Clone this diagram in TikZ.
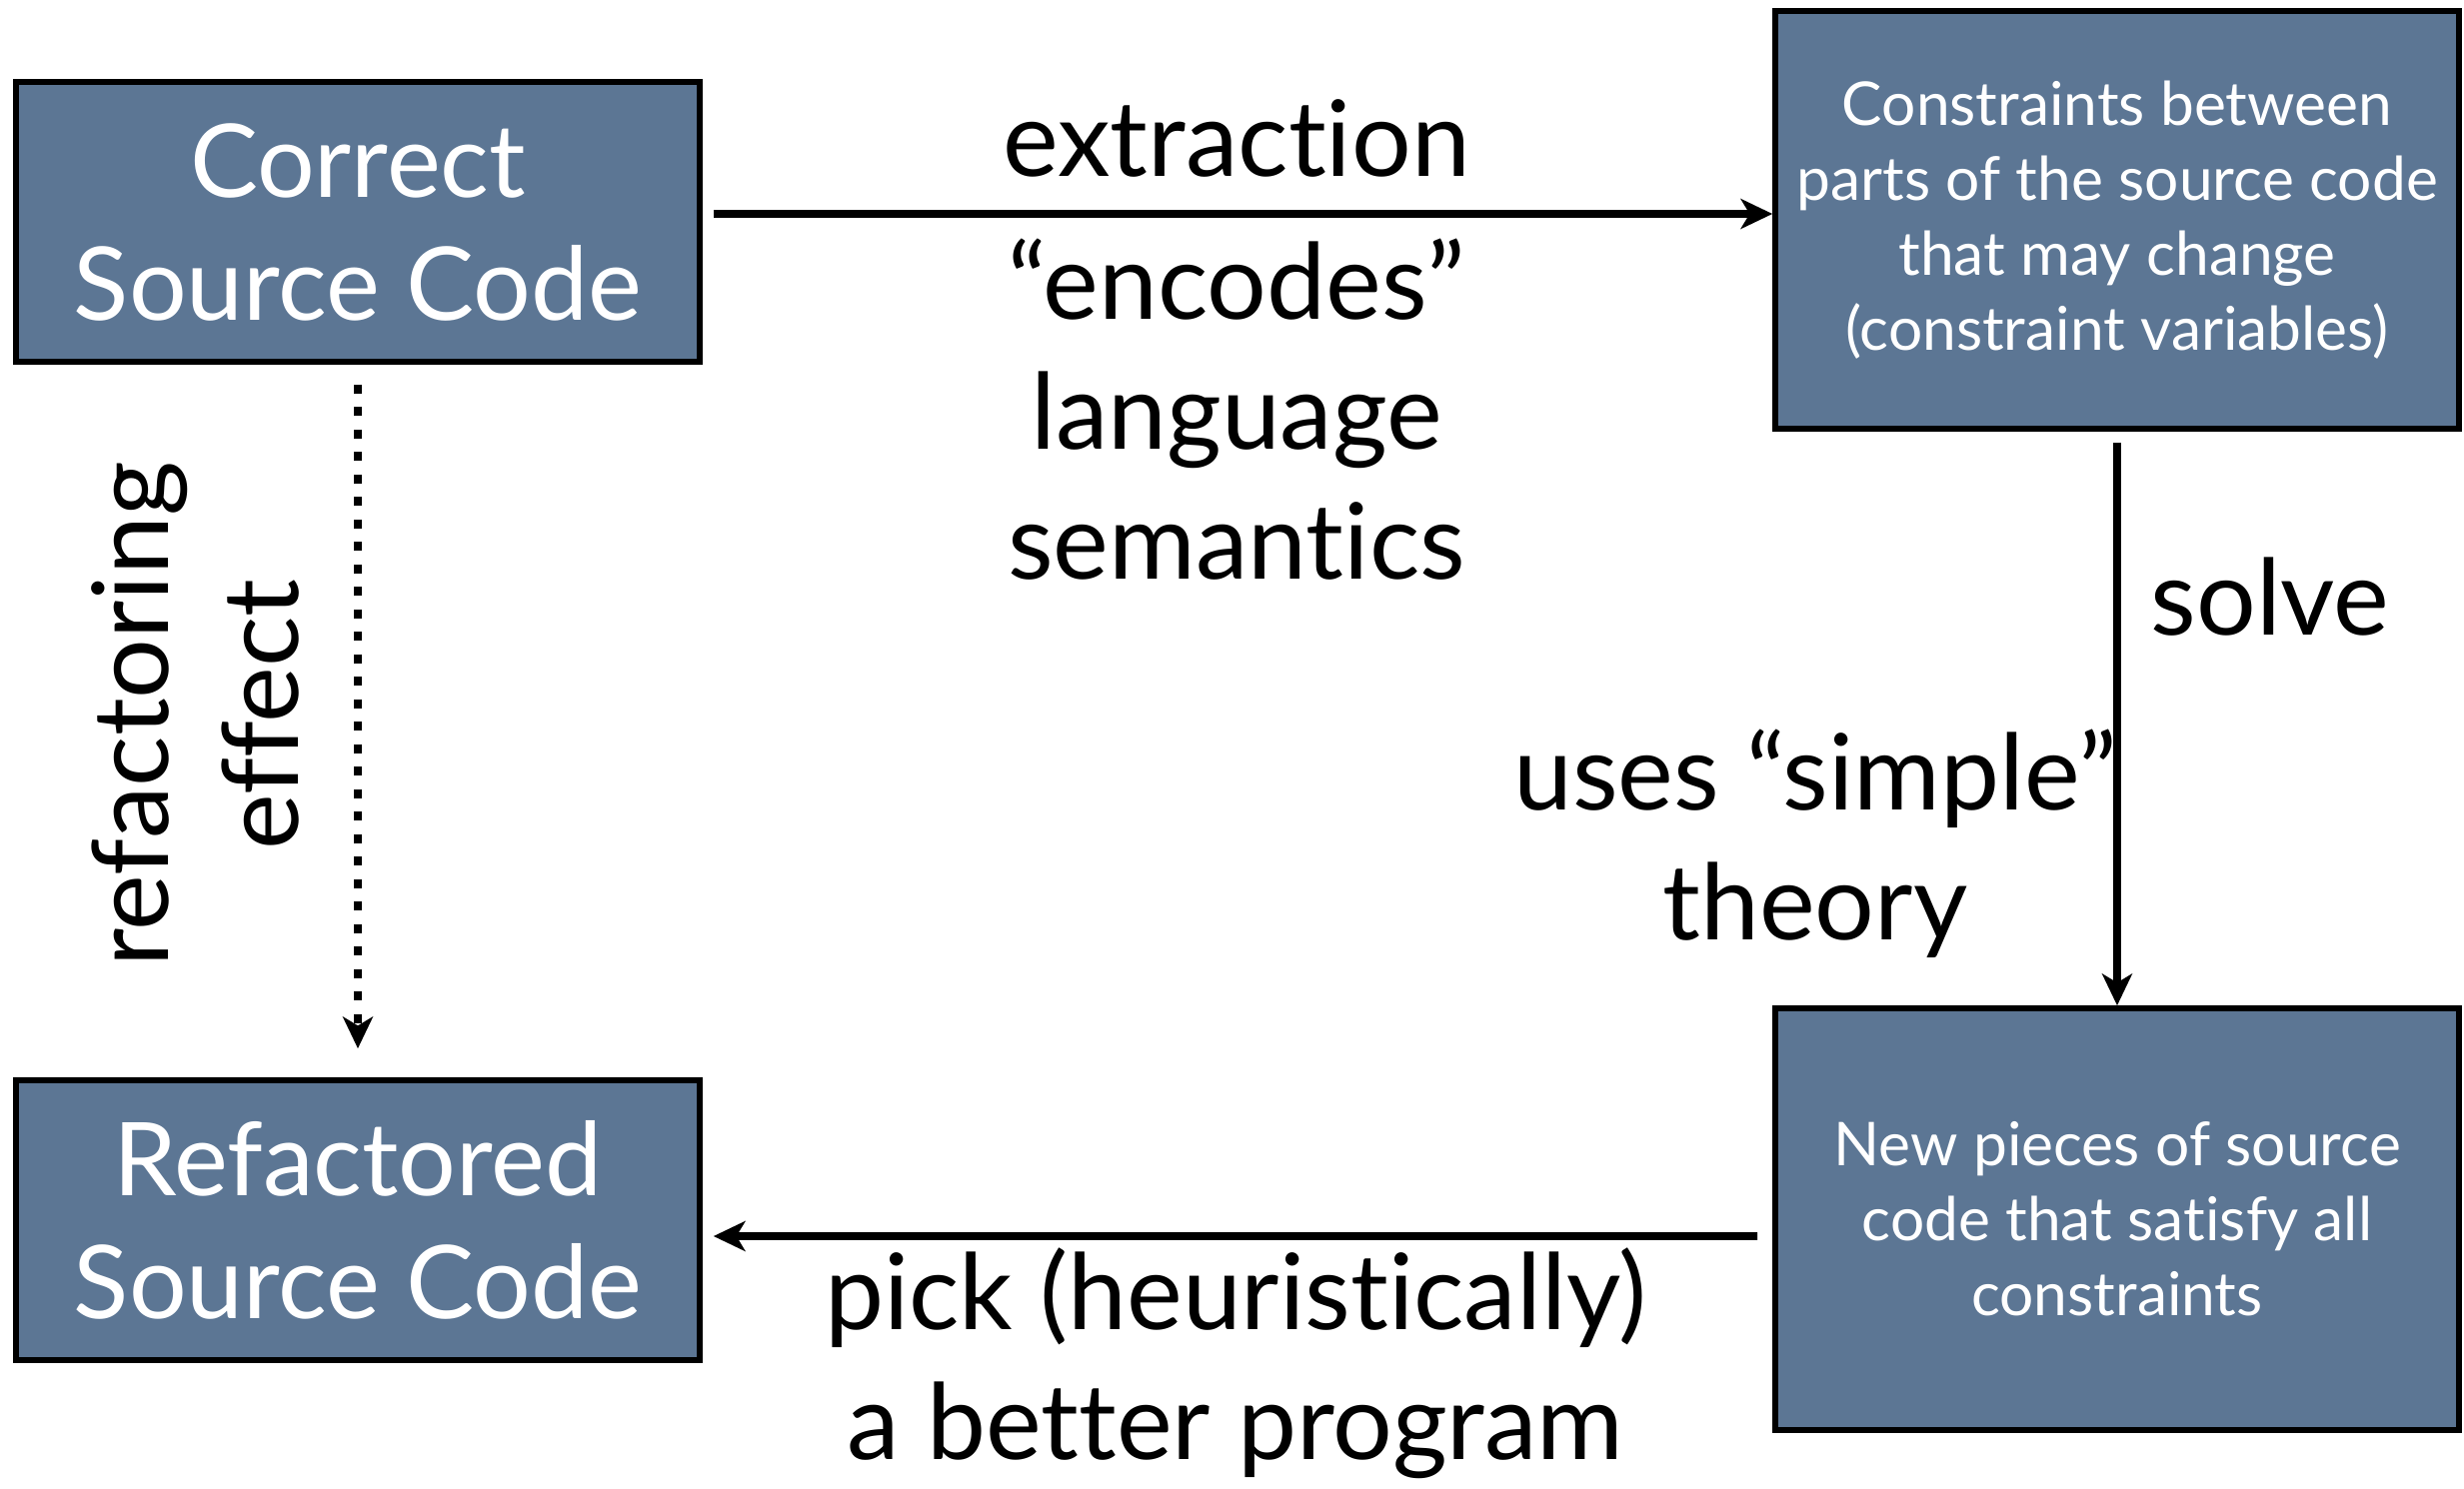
\documentclass[tikz,border=0pt]{standalone}
\usepackage{fontspec}
\setmainfont{Lato}[Ligatures={NoCommon, NoContextual}]
\usepackage{xcolor}
\definecolor{slateblue}{RGB}{92,118,148}
\usepackage{tikz}
\usetikzlibrary{arrows.meta, positioning}

\begin{document}
\begin{tikzpicture}[
  font=\fontsize{30}{37}\selectfont,
  bigbox/.style={rectangle, draw=black, line width=1.6pt, fill=slateblue,
                 minimum width=6.84cm, text=white, align=center,
                 inner sep=0pt},
  headbox/.style={bigbox, minimum height=2.8cm,
                  font=\fontsize{29}{35}\selectfont},
  textbox/.style={bigbox, minimum height=4.2cm,
                  font=\fontsize{17.2}{21.3}\selectfont},
  flow/.style={-{Stealth[length=9pt, width=8.5pt, inset=2.5pt]},
               line width=2.2pt},
  annot/.style={align=center, inner sep=0pt},
]
\useasboundingbox (0,0) rectangle (24.65,-14.89);

%% --- boites ---
\node[headbox] (correct) at (3.58,-2.22)  {Correct\\Source Code};
\node[headbox] (refact)  at (3.58,-12.21) {Refactored\\Source Code};
\node[textbox, minimum height=4.18cm] (constr) at (21.18,-2.20)
  {Constraints between\\
   parts of the source code\\
   that may change\\
   (constraint variables)};
\node[textbox, minimum height=4.22cm] (newpc) at (21.18,-12.20)
  {New pieces of source\\
   code that satisfy all\\
   constraints};

%% --- fleches ---
\draw[flow] ([xshift=0.11cm,yshift=0.08cm]correct.east)
  -- ([yshift=0.06cm]constr.west);
\draw[flow] ([yshift=-0.11cm]constr.south) -- (newpc.north);
\draw[flow] ([xshift=-0.15cm,yshift=-0.17cm]newpc.west)
  -- ([xshift=0.11cm,yshift=-0.16cm]refact.east);
\draw[flow, line width=2.5pt, dash pattern=on 2.6pt off 3.8pt]
  ([yshift=-0.2cm]correct.south) -- ([yshift=0.29cm]refact.north);

%% --- etiquettes ---
\node[annot] (extr)  at (12.37,-1.38) {extraction};
\node[annot] (enc)   at (12.37,-4.10) {“encodes”\\language\\semantics};
\node[annot] (solve) at (22.71,-5.97) {solve};
\node[annot] (uses)  at (18.16,-8.44) {uses “simple”\\theory};
\node[annot] (pick)  at (12.36,-13.64) {pick (heuristically)\\a better program};
\node[annot, rotate=90] (refl) at (1.95,-7.15) {refactoring\\effect};
\end{tikzpicture}
\end{document}
